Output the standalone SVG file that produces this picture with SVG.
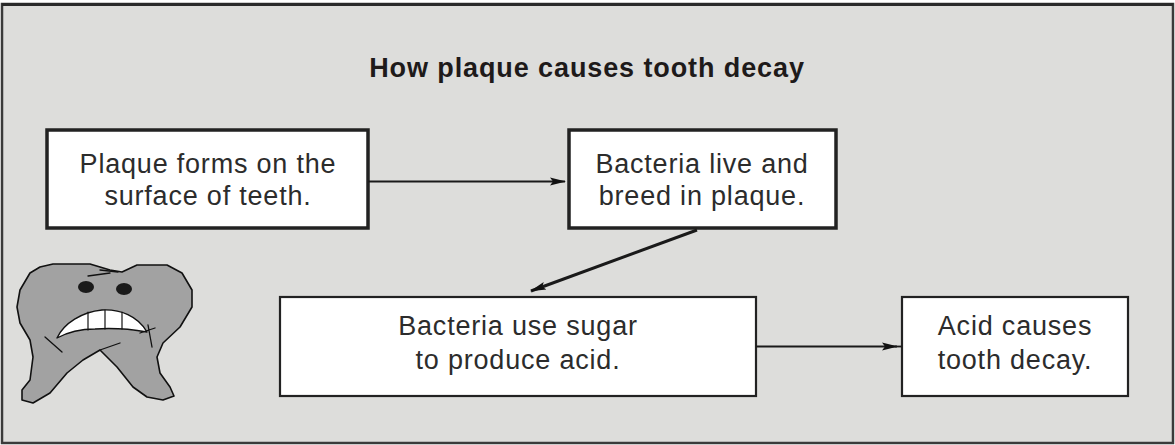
<svg xmlns="http://www.w3.org/2000/svg" width="1175" height="445" viewBox="0 0 1175 445">
  <style>
    .box { fill: #ffffff; stroke: #222222; }
    .thick { stroke-width: 3.5; }
    .thin { stroke-width: 2.2; }
    .label { font-family: "Liberation Sans", Arial, sans-serif; font-size: 27px; fill: #2c2c2c; text-anchor: middle; letter-spacing: 0.8px; }
    .title { font-family: "Liberation Sans", Arial, sans-serif; font-size: 27px; font-weight: bold; fill: #1e1a1a; text-anchor: middle; letter-spacing: 0.9px; }
    .link { stroke: #1a1a1a; fill: none; }
  </style>
  <defs>
    <marker id="head" viewBox="0 0 16 10" refX="15" refY="5" markerWidth="16" markerHeight="10" markerUnits="userSpaceOnUse" orient="auto">
      <path d="M0,1 L16,5 L0,9 L3,5 Z" fill="#111111"/>
    </marker>
  </defs>

  <!-- panel -->
  <rect x="2" y="4" width="1171" height="439" fill="#dddddb" stroke="#3a3a3a" stroke-width="2.5"/>
  <line x1="2" y1="4.5" x2="1173" y2="4.5" stroke="#2a2a2a" stroke-width="3"/>

  <text class="title" x="587" y="77">How plaque causes tooth decay</text>

  <!-- tooth character -->
  <g id="tooth" stroke="#111111" stroke-linejoin="round" stroke-linecap="round">
    <path d="M40,267 L53,264 L90,264 L110,270 L122,272 L137,265 L167,265 L182,273 L192,290 L192,307 L180,327 L163,343 L157,357 L160,373 L170,387 L174,396 L163,400 L147,397 L133,387 L117,367 L100,350 L83,360 L67,373 L50,393 L33,403 L22,400 L22,390 L30,380 L33,357 L30,340 L20,323 L17,307 L20,290 L30,273 Z" fill="#a2a2a2" stroke-width="1.6"/>
    <ellipse cx="86" cy="287" rx="8" ry="6" fill="#1a1a1a" stroke="none"/>
    <ellipse cx="124" cy="289" rx="8" ry="6" fill="#1a1a1a" stroke="none"/>
    <path d="M57,338 C64,323 82,312 102,310 C120,309 138,316 147,332 C130,329 110,328 95,329 C80,329 68,332 57,338 Z" fill="#ffffff" stroke-width="1.4"/>
    <line x1="88" y1="312" x2="88" y2="330" stroke-width="1.2"/>
    <line x1="105" y1="310" x2="105" y2="329" stroke-width="1.2"/>
    <line x1="122" y1="312" x2="122" y2="329" stroke-width="1.2"/>
    <path d="M45,337 L62,352" fill="none" stroke-width="1.3"/>
    <path d="M148,325 L152,347 M140,333 L155,328" fill="none" stroke-width="1.3"/>
    <path d="M100,350 L120,343" fill="none" stroke-width="1.3"/>
    <path d="M88,276 L110,273 M100,270 L118,272" fill="none" stroke-width="1.3"/>
  </g>

  <!-- steps -->
  <g id="step-plaque">
    <rect class="box thick" x="47" y="130" width="321" height="98"/>
    <text class="label" x="208" y="173">Plaque forms on the</text>
    <text class="label" x="208" y="205">surface of teeth.</text>
  </g>
  <g id="step-bacteria">
    <rect class="box thick" x="569" y="130" width="267" height="98"/>
    <text class="label" x="702" y="173">Bacteria live and</text>
    <text class="label" x="702" y="205">breed in plaque.</text>
  </g>
  <g id="step-sugar">
    <rect class="box thin" x="280" y="297" width="476" height="99"/>
    <text class="label" x="518" y="335">Bacteria use sugar</text>
    <text class="label" x="518" y="369">to produce acid.</text>
  </g>
  <g id="step-acid">
    <rect class="box thin" x="902" y="297" width="226" height="99"/>
    <text class="label" x="1015" y="335">Acid causes</text>
    <text class="label" x="1015" y="369">tooth decay.</text>
  </g>

  <!-- connectors -->
  <g id="connectors">
    <line class="link" x1="368" y1="181.5" x2="565" y2="181.5" stroke-width="1.8" marker-end="url(#head)"/>
    <line class="link" x1="697" y1="230" x2="531" y2="291" stroke-width="3" marker-end="url(#head)"/>
    <line class="link" x1="756" y1="346.5" x2="897" y2="346.5" stroke-width="1.8" marker-end="url(#head)"/>
    <line class="link" x1="895" y1="346.5" x2="902" y2="346.5" stroke-width="1.8"/>
  </g>
</svg>
